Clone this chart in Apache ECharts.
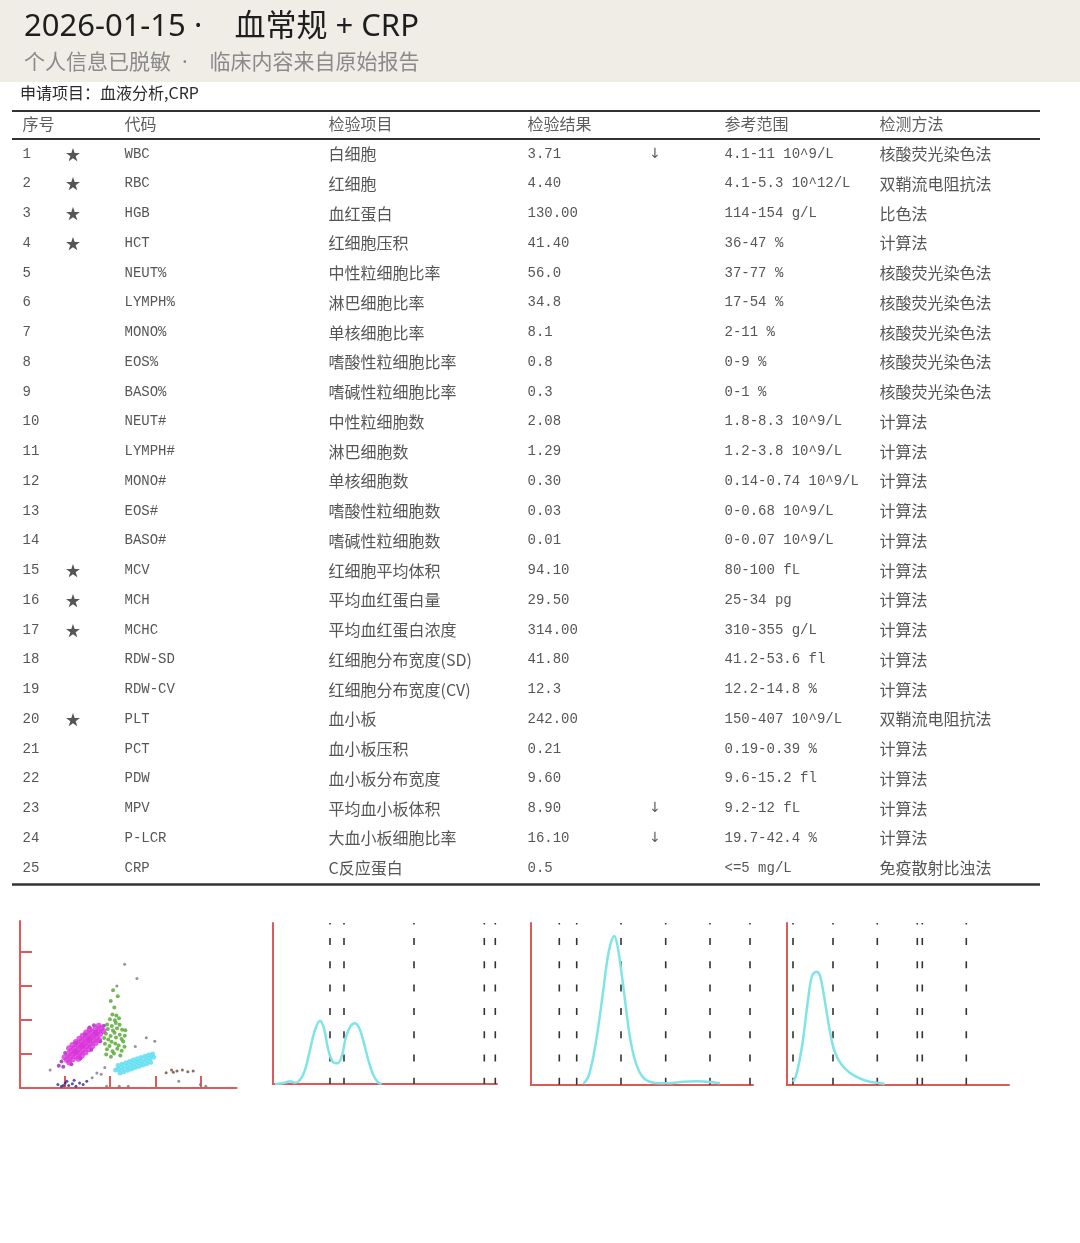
<!DOCTYPE html>
<html>
<head>
<meta charset="utf-8">
<title>血常规 + CRP</title>
<script src="https://cdn.jsdelivr.net/npm/echarts@6/dist/echarts.min.js"></script>
<style>
  html, body { margin: 0; padding: 0; background: #fff; }
  #main { width: 1080px; height: 1243px; }
</style>
</head>
<body>
<div id="main"></div>
<script>
// ---- 表格数据 ----
const headers = ['序号', '代码', '检验项目', '检验结果', '参考范围', '检测方法'];
const codes = ['WBC', 'RBC', 'HGB', 'HCT', 'NEUT%', 'LYMPH%', 'MONO%', 'EOS%', 'BASO%', 'NEUT#', 'LYMPH#', 'MONO#', 'EOS#', 'BASO#',
  'MCV', 'MCH', 'MCHC', 'RDW-SD', 'RDW-CV', 'PLT', 'PCT', 'PDW', 'MPV', 'P-LCR', 'CRP'];
const items = ['白细胞', '红细胞', '血红蛋白', '红细胞压积', '中性粒细胞比率', '淋巴细胞比率', '单核细胞比率', '嗜酸性粒细胞比率',
  '嗜碱性粒细胞比率', '中性粒细胞数', '淋巴细胞数', '单核细胞数', '嗜酸性粒细胞数', '嗜碱性粒细胞数', '红细胞平均体积',
  '平均血红蛋白量', '平均血红蛋白浓度', '红细胞分布宽度(SD)', '红细胞分布宽度(CV)', '血小板', '血小板压积', '血小板分布宽度',
  '平均血小板体积', '大血小板细胞比率', 'C反应蛋白'];
const results = ['3.71', '4.40', '130.00', '41.40', '56.0', '34.8', '8.1', '0.8', '0.3', '2.08', '1.29', '0.30', '0.03', '0.01',
  '94.10', '29.50', '314.00', '41.80', '12.3', '242.00', '0.21', '9.60', '8.90', '16.10', '0.5'];
const flags = ['↓', '', '', '', '', '', '', '', '', '', '', '', '', '', '', '', '', '', '', '', '', '', '↓', '↓', ''];
const stars = ['★', '★', '★', '★', '', '', '', '', '', '', '', '', '', '', '★', '★', '★', '', '', '★', '', '', '', '', ''];
const ranges = ['4.1-11 10^9/L', '4.1-5.3 10^12/L', '114-154 g/L', '36-47 %', '37-77 %', '17-54 %', '2-11 %', '0-9 %', '0-1 %',
  '1.8-8.3 10^9/L', '1.2-3.8 10^9/L', '0.14-0.74 10^9/L', '0-0.68 10^9/L', '0-0.07 10^9/L', '80-100 fL', '25-34 pg',
  '310-355 g/L', '41.2-53.6 fl', '12.2-14.8 %', '150-407 10^9/L', '0.19-0.39 %', '9.6-15.2 fl', '9.2-12 fL',
  '19.7-42.4 %', '<=5 mg/L'];
const methods = ['核酸荧光染色法', '双鞘流电阻抗法', '比色法', '计算法', '核酸荧光染色法', '核酸荧光染色法', '核酸荧光染色法',
  '核酸荧光染色法', '核酸荧光染色法', '计算法', '计算法', '计算法', '计算法', '计算法', '计算法', '计算法', '计算法',
  '计算法', '计算法', '双鞘流电阻抗法', '计算法', '计算法', '计算法', '计算法', '免疫散射比浊法'];

// ---- 散点图 (WBC DIFF) ----
const diffMagenta = [[26, 16.5], [27.3, 15], [24.7, 18], [27.9, 18.35], [29.2, 16.9], [26.6, 19.9],
  [29.8, 20.2], [32.4, 17.1], [31.1, 18.7], [28.5, 21.7], [27.2, 23.3],
  [31.7, 22.05], [34.3, 19], [33, 20.5], [30.4, 23.6], [29.1, 25.2],
  [33.6, 23.9], [36.2, 20.8], [34.9, 22.4], [32.3, 25.4], [31, 27],
  [35.5, 25.75], [38.1, 22.7], [36.8, 24.3], [34.2, 27.3], [32.9, 28.9],
  [37.4, 27.6], [40, 24.5], [38.7, 26.1], [36.1, 29.1], [34.8, 30.7],
  [39.3, 29.45], [41.9, 26.4], [40.6, 28], [38, 31], [36.7, 32.6],
  [41.2, 31.3], [43.8, 28.2], [42.5, 29.8], [39.9, 32.8], [38.6, 34.4],
  [43.1, 33.15], [44.4, 31.7], [41.8, 34.7], [45, 35], [46.3, 33.5], [43.7, 36.5],
  [30.7, 21.1], [34.5, 24.8], [38.3, 28.5], [42.1, 32.2]];
const diffPurple = [[23, 15.5], [25, 20.5], [28.5, 14], [31, 26.5], [33.5, 17.5], [36, 31.5], [39.5, 22.5], [38.5, 35.5],
  [44.5, 27.5], [46.5, 36.5], [21.5, 13], [24, 12.5], [41, 36.8]];
const diffGreen = [[47.8, 19.6], [50.4, 18.4], [52.1, 20.2], [55.6, 19.1], [48.2, 22.7], [51.3, 21.5], [53.9, 23.1],
  [56.4, 21.8], [57.9, 24.2], [47.1, 25.9], [49.6, 24.6], [52.8, 26.1], [54.7, 24.9], [57.2, 27.3], [48.9, 28.4],
  [50.7, 27.2], [53.2, 29.6], [56.3, 28.7], [47.6, 31.8], [50.2, 30.5], [52.4, 32.4], [55.3, 31.2], [58.1, 30.6],
  [48.7, 34.6], [51.5, 33.7], [53.8, 35.1], [56.6, 34.2], [48.3, 37.3], [50.9, 36.4], [53.1, 38.2], [55.2, 37.1],
  [49.8, 40.4], [52.6, 39.7], [54.9, 40.9], [51.2, 43.1], [53.4, 42.6], [46.6, 29.3], [58.4, 33.9],
  [52.3, 47.2], [50.3, 51.1], [54.2, 53.8], [51.6, 57.3]];
const diffCyan = [[53, 10.5], [54.9, 11], [55.4, 8.8], [54.4, 13.2], [57, 11.8], [57.5, 9.6], [56.5, 14],
  [59.2, 12.6], [59.7, 10.4], [58.7, 14.8], [61.3, 13.4], [61.8, 11.2], [60.8, 15.6], [63.4, 14.2], [63.9, 12],
  [62.9, 16.4], [65.5, 14.9], [66, 12.7], [65, 17.1], [67.6, 15.7], [68.1, 13.5], [67.1, 17.9], [69.8, 16.5],
  [70.3, 14.3], [69.3, 18.7], [71.9, 17.3], [72.4, 15.1], [71.4, 19.4], [74, 18.1], [73.5, 20]];
const diffNavy = [[21, 2], [23, 1], [25, 3], [27, 1.5], [29, 2.5], [31, 1], [33, 3], [35, 2], [37, 4], [26, 4], [30, 4.5], [24, 1.5]];
const diffBrown = [[81, 9], [84, 10.5], [87, 10], [90, 10.6], [93, 9.5], [96, 10], [85, 9.3]];
const diffGrey = [[16.7, 10.6], [70, 29.5], [74.7, 27.5], [63.9, 24.4], [58, 72.6], [64.8, 64.3], [53.7, 59.8], [45, 8],
  [40, 6], [88, 4], [100, 2], [103, 1], [48, 1], [55, 1], [60, 1], [42.6, 8.8], [47, 12]];
const diffXTicks = [25, 50, 75, 100];
const diffYTicks = [20, 40, 60, 80];

// ---- 直方图 ----
const wbcCurve = [[2, 0], [12, 1.3], [17, 2.7], [22, 1.3], [27, 4], [32, 14], [37, 34], [42, 54], [47, 63.3], [51, 55.7],
  [55.3, 34], [59.7, 22.3], [64.3, 20.7], [68.7, 27.3], [73, 47.3], [77.7, 58], [82, 60.7], [86.3, 55.7], [91, 40.7],
  [95.3, 24], [100.3, 9], [105.3, 1.3], [108.7, 0]];
const wbcGates = [57, 71, 141, 211.3, 222.3];
const rbcCurve = [[52.3, 1], [57.3, 8.3], [62.3, 28.3], [67.3, 58.3], [72.3, 95], [76.3, 125], [79.7, 141.7], [83.3, 149],
  [86.3, 140], [89.7, 118.3], [94, 85], [98.3, 51.7], [103, 28.3], [108.3, 13.3], [114, 5.7], [122.3, 2.3], [135.7, 1.7],
  [152.3, 3.3], [165.7, 3.7], [179, 3], [189, 1.7]];
const rbcGates = [28.3, 45.7, 90, 134.7, 179, 219];
const pltCurve = [[6, 3.3], [8.7, 8.3], [12, 21.7], [16, 45], [21, 85], [25, 109], [29.3, 113.3], [32.7, 110], [36, 95],
  [39.3, 75], [43.3, 51.7], [47.7, 33.3], [54.3, 20.7], [62.7, 12.3], [72.7, 6.7], [82.7, 3.3], [92.7, 1.7], [97.7, 1]];
const pltGates = [6, 46, 90.3, 130.3, 135.3, 179.3];

// ---- 布局 ----
const ROW_H = 29.75;
const colX = { seq: 22, star: 73, code: 124, item: 328, result: 527, flag: 655, range: 724, method: 879 };
const headerX = [colX.seq, colX.code, colX.item, colX.result, colX.range, colX.method];
const monoFont = "'Liberation Mono', 'Noto Sans CJK SC', monospace";
const cjkFont = "'Noto Sans CJK SC', 'Liberation Serif', serif";
const titleFont = "'Noto Sans', 'Noto Sans CJK SC', sans-serif";
const RED = '#dd5a5a';
const CYAN = '#7fe4e8';

function textColumn(x, texts, font, size, pos, row0) {
  return {
    type: 'scatter', xAxisIndex: 0, yAxisIndex: 0, silent: true,
    symbol: 'circle', symbolSize: 1, itemStyle: { color: 'rgba(0,0,0,0)' },
    data: texts.map((t, i) => ({ value: [x, i + row0], text: t })).filter(d => d.text !== ''),
    label: {
      show: true, position: pos, distance: 0,
      formatter: p => p.data.text,
      fontFamily: font, fontSize: size, color: '#2a2a2a'
    }
  };
}

function headerSeries() {
  return {
    type: 'scatter', xAxisIndex: 0, yAxisIndex: 0, silent: true,
    symbol: 'circle', symbolSize: 1, itemStyle: { color: 'rgba(0,0,0,0)' },
    data: headers.map((h, i) => ({ value: [headerX[i], 0], text: h })),
    label: { show: true, position: 'right', distance: 0, formatter: p => p.data.text, fontFamily: cjkFont, fontSize: 16, color: '#333' }
  };
}

function dots(data, color, size) {
  return { type: 'scatter', xAxisIndex: 1, yAxisIndex: 1, silent: true, data, symbolSize: size, itemStyle: { color } };
}

function gateLines(gates, top, idx) {
  return gates.map(g => ({
    type: 'line', xAxisIndex: idx, yAxisIndex: idx, silent: true, symbol: 'none',
    data: [[g, top], [g, 0]],
    lineStyle: { color: '#333', width: 1.6, type: [1.5, 13.5, 7, 16.3, 7, 16.3, 7, 16.3, 7, 16.3, 7, 16.3, 7, 16.3, 7, 40] }
  }));
}

function curve(data, idx) {
  return {
    type: 'line', xAxisIndex: idx, yAxisIndex: idx, silent: true, symbol: 'none', smooth: 0.35,
    data, lineStyle: { color: CYAN, width: 2.5 }, z: 3
  };
}

function plainAxis(idx, max, ticks) {
  const a = {
    type: 'value', gridIndex: idx, min: 0, max,
    axisLine: { show: true, onZero: false, lineStyle: { color: RED, width: 2 } },
    axisTick: { show: false }, axisLabel: { show: false }, splitLine: { show: false }
  };
  if (ticks) {
    a.axisTick = { show: true, inside: true, length: 12, customValues: ticks, lineStyle: { color: RED, width: 2 } };
  }
  return a;
}

const rowNames = ['head'].concat(codes);

const option = {
  animation: false,
  backgroundColor: '#fff',
  title: [
    {
      text: '2026-01-15 ·    血常规 + CRP',
      subtext: '个人信息已脱敏  ·    临床内容来自原始报告',
      left: 24, top: 12, padding: 0, itemGap: 10,
      textStyle: { fontSize: 31, fontWeight: 'normal', color: '#1e1e1e', fontFamily: titleFont },
      subtextStyle: { fontSize: 21, color: '#8a8a8a', fontFamily: titleFont }
    },
    {
      text: '申请项目：血液分析,CRP',
      left: 20, top: 85, padding: 0,
      textStyle: { fontSize: 16, fontWeight: 'normal', color: '#2a2a2a', fontFamily: cjkFont }
    }
  ],
  graphic: [
    { type: 'rect', z: -10, shape: { x: 0, y: 0, width: 1080, height: 82 }, style: { fill: '#efede6' } },
    { type: 'line', shape: { x1: 12, y1: 111, x2: 1040, y2: 111 }, style: { stroke: '#333', lineWidth: 2 } },
    { type: 'line', shape: { x1: 12, y1: 139, x2: 1040, y2: 139 }, style: { stroke: '#333', lineWidth: 2 } },
    { type: 'line', shape: { x1: 12, y1: 884.5, x2: 1040, y2: 884.5 }, style: { stroke: '#333', lineWidth: 2.5 } }
  ],
  grid: [
    { left: 0, top: 154 - ROW_H * 1.5, width: 1080, height: ROW_H * 26 },
    { left: 20, top: 921, width: 216.5, height: 167 },
    { left: 273, top: 923, width: 224, height: 161 },
    { left: 531, top: 923, width: 222, height: 162 },
    { left: 787, top: 923, width: 222, height: 162 }
  ],
  xAxis: [
    { type: 'value', gridIndex: 0, min: 0, max: 1080, show: false },
    plainAxis(1, 120, diffXTicks),
    plainAxis(2, 224),
    plainAxis(3, 222),
    plainAxis(4, 222)
  ],
  yAxis: [
    { type: 'category', gridIndex: 0, data: rowNames, inverse: true, show: false },
    plainAxis(1, 98, diffYTicks),
    plainAxis(2, 161),
    plainAxis(3, 162),
    plainAxis(4, 162)
  ],
  series: [
    headerSeries(),
    textColumn(colX.seq, codes.map((c, i) => String(i + 1)), monoFont, 14, 'right', 1),
    textColumn(colX.star, stars, cjkFont, 15, 'inside', 1),
    textColumn(colX.code, codes, monoFont, 14, 'right', 1),
    textColumn(colX.item, items, cjkFont, 16, 'right', 1),
    textColumn(colX.result, results, monoFont, 14, 'right', 1),
    textColumn(colX.flag, flags, "'DejaVu Sans', sans-serif", 14, 'inside', 1),
    textColumn(colX.range, ranges, monoFont, 14, 'right', 1),
    textColumn(colX.method, methods, cjkFont, 16, 'right', 1),
    dots(diffGrey, '#7a7a7a', 3),
    dots(diffNavy, '#2b2b8f', 3),
    dots(diffBrown, '#6b4a3a', 3),
    dots(diffPurple, '#8e2ab8', 4),
    dots(diffMagenta, '#d933d9', 6),
    dots(diffGreen, '#4fa82a', 4),
    dots(diffCyan, '#55dcef', 5)
  ]
    .concat(gateLines(wbcGates, 161, 2))
    .concat(gateLines(rbcGates, 162, 3))
    .concat(gateLines(pltGates, 162, 4))
    .concat([curve(wbcCurve, 2), curve(rbcCurve, 3), curve(pltCurve, 4)])
};

const chart = echarts.init(document.getElementById('main'));
chart.setOption(option);
</script>
</body>
</html>
